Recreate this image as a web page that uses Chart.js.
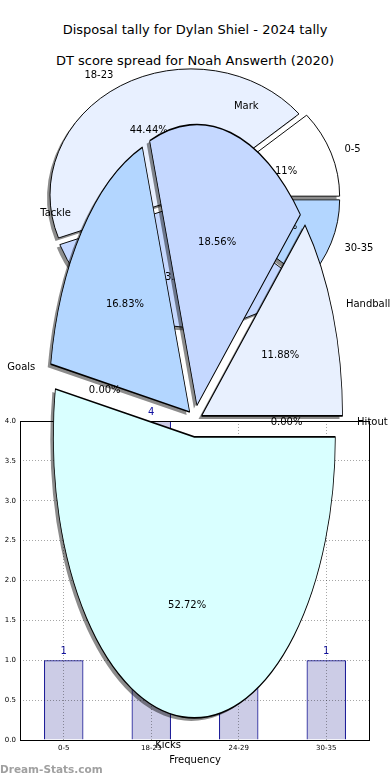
<!DOCTYPE html>
<html>
<head>
<meta charset="utf-8">
<script src="https://cdn.jsdelivr.net/npm/chart.js@4"></script>
<style>
body { margin: 0; background: #fff; }
#page { position: relative; width: 390px; height: 780px; overflow: hidden; font-family: "DejaVu Sans", sans-serif; }
canvas { position: absolute; left: 0; top: 0; }
.title { position: absolute; left: 0; width: 390px; text-align: center; font-size: 13px; color: #000; line-height: 15px; }
#mark { position: absolute; left: 0; top: 763px; font-size: 10.5px; font-weight: bold; color: #a0a0a0; }
</style>
</head>
<body>
<div id="page">
  <div class="title" style="top:22px">Disposal tally for Dylan Shiel - 2024 tally</div>
  <div class="title" style="top:53px">DT score spread for Noah Answerth (2020)</div>
  <canvas id="scorePie" width="390" height="780"></canvas>
  <canvas id="scoreBars" width="390" height="780"></canvas>
  <canvas id="disposalPie" width="390" height="780"></canvas>
  <div id="mark">Dream-Stats.com</div>
</div>
<script>
// data
const scoreBins = ["0-5", "18-23", "24-29", "30-35"];
const scoreCounts = [1, 4, 3, 1];
const yTickValues = [0, 0.5, 1, 1.5, 2, 2.5, 3, 3.5, 4];
const disposalTypes = ["Kicks", "Goals", "Tackle", "Mark", "Handball", "Hitout"];
const disposalShare = [52.72, 0.00, 16.83, 18.56, 11.88, 0.00];

// styles
const binColors = ["#ffffff", "#e8f0ff", "#c5d8ff", "#b3d6ff"];
const binExplode = [6, 4, 4, 6];
const typeColors = ["#d9ffff", "#ffffff", "#b3d6ff", "#c5d8ff", "#e8f0fe", "#ffffff"];
const typeExplode = [8, 7, 7, 8, 7, 7];
const FONT = "DejaVu Sans";

function makePie(id, labels, values, pctText, colors, explode, cx, cy, r, sy, bw) {
  const total = values.reduce((a, b) => a + b, 0);
  const side = 2 * r + bw;

  // squashed, exploded wedges with a shadow, drawn by hand from the arc elements
  const ellipse = {
    id: "ellipse",
    beforeDatasetsDraw(chart) {
      const ctx = chart.ctx;
      const arcs = chart.getDatasetMeta(0).data;
      const squash = (a) => {
        ctx.translate(a.x, a.y);
        ctx.scale(1, sy);
        ctx.translate(-a.x, -a.y);
      };
      // shadows first, under every wedge
      ctx.save();
      ctx.translate(-3, 3);
      squash(arcs[0]);
      ctx.fillStyle = "rgba(0,0,0,0.45)";
      arcs.forEach((arc, i) => {
        if (arc.endAngle - arc.startAngle <= 0) return;
        const mid = (arc.startAngle + arc.endAngle) / 2;
        const ox = arc.x + Math.cos(mid) * explode[i];
        const oy = arc.y + Math.sin(mid) * explode[i];
        ctx.beginPath();
        ctx.moveTo(ox, oy);
        ctx.arc(ox, oy, arc.outerRadius, arc.startAngle, arc.endAngle);
        ctx.closePath();
        ctx.fill();
      });
      ctx.restore();
      // wedges
      arcs.forEach((arc, i) => {
        const mid = (arc.startAngle + arc.endAngle) / 2;
        ctx.save();
        squash(arc);
        ctx.translate(Math.cos(mid) * explode[i], Math.sin(mid) * explode[i]);
        arc.draw(ctx);
        ctx.restore();
      });
      // labels
      ctx.save();
      ctx.font = "10px '" + FONT + "'";
      ctx.fillStyle = "#000";
      ctx.textBaseline = "middle";
      arcs.forEach((arc, i) => {
        const mid = (arc.startAngle + arc.endAngle) / 2;
        const ux = Math.cos(mid), uy = Math.sin(mid) * sy;
        const lr = 1.1 * arc.outerRadius + explode[i];
        const pr = 0.6 * arc.outerRadius + explode[i];
        ctx.textAlign = ux > 0 ? "left" : "right";
        ctx.fillText(labels[i], arc.x + ux * lr, arc.y + uy * lr + 1);
        ctx.textAlign = "center";
        ctx.fillText(pctText(values[i], total), arc.x + ux * pr, arc.y + uy * pr + 1);
      });
      ctx.restore();
      return false;
    }
  };

  return new Chart(document.getElementById(id), {
    type: "pie",
    data: {
      labels: labels,
      datasets: [{
        data: values,
        backgroundColor: colors,
        borderColor: "#000",
        borderWidth: bw,
        hoverBorderWidth: bw,
        hoverOffset: 0,
        clip: false
      }]
    },
    options: {
      responsive: false,
      animation: false,
      events: [],
      rotation: 90,
      layout: {
        padding: {
          left: cx - side / 2,
          right: 390 - cx - side / 2,
          top: cy - side / 2,
          bottom: 780 - cy - side / 2
        }
      },
      plugins: { legend: { display: false }, tooltip: { enabled: false } }
    },
    plugins: [ellipse]
  });
}

// small pie, clockwise so reversed order
makePie("scorePie", scoreBins.slice().reverse(), scoreCounts.slice().reverse(),
  (v, t) => (v / t * 100).toFixed(2) + "%",
  binColors.slice().reverse(), binExplode.slice().reverse(), 193, 198, 141, 126 / 141, 1);

// bar chart
const frame = {
  id: "frame",
  afterDatasetsDraw(chart) {
    const ctx = chart.ctx;
    const a = chart.chartArea;
    ctx.save();
    ctx.font = "10px '" + FONT + "'";
    ctx.fillStyle = "#1010a0";
    ctx.textAlign = "center";
    ctx.textBaseline = "middle";
    chart.getDatasetMeta(0).data.forEach((bar, i) => {
      ctx.fillText(String(scoreCounts[i]), bar.x, bar.y - 9);
    });
    ctx.strokeStyle = "#000";
    ctx.lineWidth = 1;
    ctx.strokeRect(Math.round(a.left) + 0.5, Math.round(a.top) + 0.5,
      Math.round(a.right - a.left) - 1, Math.round(a.bottom - a.top));
    ctx.restore();
  }
};

new Chart(document.getElementById("scoreBars"), {
  type: "bar",
  data: {
    labels: scoreBins,
    datasets: [{
      data: scoreCounts,
      backgroundColor: "rgba(0,0,128,0.2)",
      borderColor: "#00008b",
      borderWidth: 1,
      barPercentage: 0.45,
      categoryPercentage: 1
    }]
  },
  options: {
    responsive: false,
    animation: false,
    events: [],
    layout: { padding: { left: 0, right: 20, top: 421, bottom: 14 } },
    plugins: { legend: { display: false }, tooltip: { enabled: false } },
    scales: {
      x: {
        grid: { offset: false, color: "rgba(0,0,0,0.35)", drawTicks: false, z: 1, borderDash: [1, 2] },
        border: { display: false, dash: [1, 2] },
        ticks: { font: { family: FONT, size: 7 }, color: "#000", padding: 4, maxRotation: 0 },
        title: { display: true, text: "Frequency", font: { family: FONT, size: 10 }, color: "#000", padding: 0 },
        afterFit(s) { s.height = 26; }
      },
      y: {
        min: 0,
        max: 4,
        afterBuildTicks(s) { s.ticks = yTickValues.map(v => ({ value: v })); },
        grid: { color: "rgba(0,0,0,0.35)", drawTicks: false, z: 1, borderDash: [1, 2] },
        border: { display: false, dash: [1, 2] },
        ticks: { font: { family: FONT, size: 7 }, color: "#000", padding: 4, callback: v => v.toFixed(1) },
        afterFit(s) { s.width = 20; }
      }
    }
  },
  plugins: [frame]
});

// big pie on top
makePie("disposalPie", disposalTypes, disposalShare,
  v => v.toFixed(2) + "%",
  typeColors, typeExplode, 195, 421, 141, 281 / 141, 0.8);
</script>
</body>
</html>
